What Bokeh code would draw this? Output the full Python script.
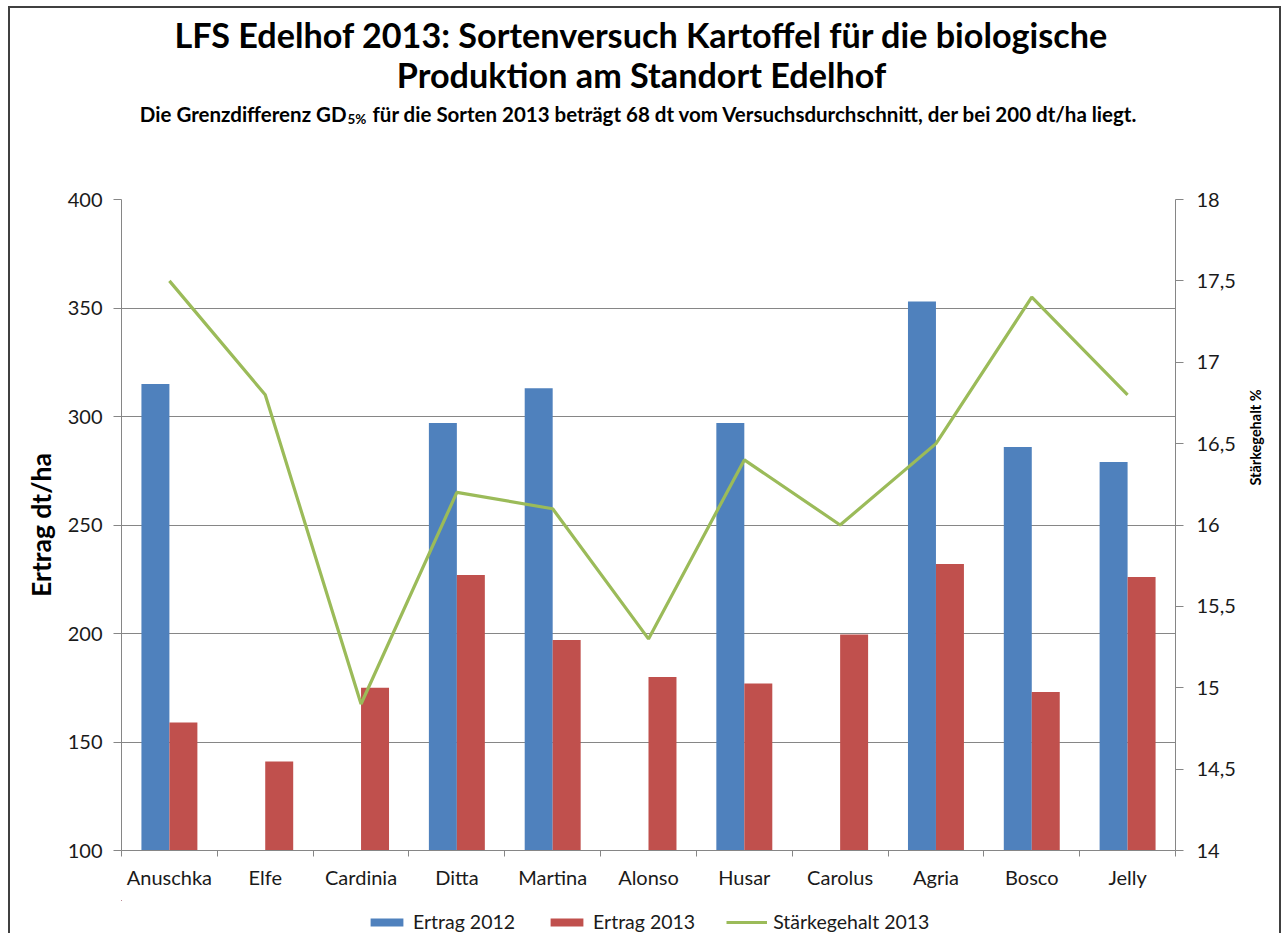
import math
import numpy as np
from bokeh.plotting import figure
from bokeh.layouts import column, row
from bokeh.models import (Range1d, LinearAxis, FixedTicker, Label, Legend, LegendItem,
                          ColumnDataSource)
from bokeh.embed import file_html
from bokeh.resources import INLINE

categories = ["Anuschka", "Elfe", "Cardinia", "Ditta", "Martina", "Alonso",
              "Husar", "Carolus", "Agria", "Bosco", "Jelly"]
ertrag_2012 = [315, None, None, 297, 313, None, 297, None, 353, 286, 279]
ertrag_2013 = [159, 141, 175, 227, 197, 180, 177, 199.5, 232, 173, 226]
staerke_2013 = [17.5, 16.8, 14.9, 16.2, 16.1, 15.3, 16.4, 16.0, 16.5, 17.4, 16.8]
left_ticks = [100, 150, 200, 250, 300, 350, 400]
right_ticks = [14, 14.5, 15, 15.5, 16, 16.5, 17, 17.5, 18]
series_names = ["Ertrag 2012", "Ertrag 2013", "Stärkegehalt 2013"]

title_1 = "LFS Edelhof 2013: Sortenversuch Kartoffel für die biologische"
title_2 = "Produktion am Standort Edelhof"
sub_a = "Die Grenzdifferenz GD"
sub_b = "5%"
sub_c = "für die Sorten 2013 beträgt 68 dt vom Versuchsdurchschnitt, der bei 200 dt/ha liegt."
y_title = "Ertrag dt/ha"
y2_title = "Stärkegehalt %"

BLUE, RED, GREEN, GREY = "#4F81BD", "#C0504D", "#9BBB59", "#868686"
FONT = "Lato"
RW = 36            # width of the strip holding the right axis title
CW = 1269 - RW     # width of the chart column
MBL, MBR = 111, 1243 - 1175


def blank(width, height, xr, yr, mbl=0, mbr=0):
    f = figure(width=width, height=height, x_range=Range1d(*xr), y_range=Range1d(*yr),
               output_backend="svg", toolbar_location=None,
               x_axis_location=None, y_axis_location=None,
               min_border=0, min_border_left=mbl, min_border_right=mbr,
               min_border_top=0, min_border_bottom=0)
    f.outline_line_color = None
    f.xgrid.visible = False
    f.ygrid.visible = False
    return f


# ---------- header (title block) ----------
head = blank(CW, 150, (121, 1175), (158, 8), MBL, MBR)


def lab(text, x, y, size, align="center"):
    head.add_layout(Label(x=x, y=y, text=text, text_font=FONT, text_font_size=size,
                          text_font_style="bold", text_align=align,
                          text_baseline="middle", text_color="black"))


lab(title_1, 641, 34, "34.2px")
lab(title_2, 641, 74, "34.2px")
lab(sub_a, 346, 113, "20.5px", align="right")
lab(sub_b, 347, 118, "13.5px", align="left")
lab(sub_c, 372, 113, "20.5px", align="left")

# ---------- main chart ----------
n = len(categories)
centers = [i + 0.5 for i in range(n)]
src = ColumnDataSource(dict(
    x=centers,
    x12=[c - 0.146 for c in centers],
    x13=[c + 0.146 for c in centers],
    e12=np.array(ertrag_2012, dtype=float),
    e13=np.array(ertrag_2013, dtype=float),
    st=staerke_2013,
))

p = figure(width=CW, height=742, x_range=Range1d(0, n), y_range=Range1d(100, 400),
           output_backend="svg", toolbar_location=None,
           min_border_left=MBL, min_border_right=MBR, min_border_top=41, min_border_bottom=50)
p.extra_y_ranges = {"right": Range1d(14, 18)}
p.outline_line_color = None

bar_kw = dict(bottom=100, width=0.292, source=src, line_color=None)
line_kw = dict(line_color=GREEN, line_width=3.2)
p.vbar(x="x12", top="e12", fill_color=BLUE, **bar_kw)
p.vbar(x="x13", top="e13", fill_color=RED, **bar_kw)
p.line(x="x", y="st", source=src, y_range_name="right", **line_kw)

xa = p.xaxis[0]
xa.ticker = FixedTicker(ticks=centers, minor_ticks=list(range(n + 1)))
xa.major_label_overrides = {c: name for c, name in zip(centers, categories)}
xa.major_tick_line_color = None
xa.major_tick_out = 0
xa.major_tick_in = 0
xa.minor_tick_line_color = GREY
xa.minor_tick_out = 6
xa.minor_tick_in = 0
xa.axis_line_color = GREY
xa.major_label_standoff = 8
xa.major_label_text_font = FONT
xa.major_label_text_font_size = "20px"
xa.major_label_text_color = "#1a1a1a"

ya = p.yaxis[0]
ya.ticker = FixedTicker(ticks=left_ticks, minor_ticks=[])
ya.axis_line_color = GREY
ya.major_tick_line_color = GREY
ya.major_tick_out = 8
ya.major_tick_in = 0
ya.major_label_standoff = 11
ya.major_label_text_font = FONT
ya.major_label_text_font_size = "20px"
ya.major_label_text_color = "#1a1a1a"
ya.axis_label = y_title
ya.axis_label_text_font = FONT
ya.axis_label_text_font_style = "bold"
ya.axis_label_text_font_size = "26.5px"
ya.axis_label_text_color = "black"
ya.axis_label_standoff = 8

ra = LinearAxis(y_range_name="right")
ra.ticker = FixedTicker(ticks=right_ticks, minor_ticks=[])
ra.major_label_overrides = {t: (str(t).replace(".", ",") if t % 1 else str(int(t))) for t in right_ticks}
ra.axis_line_color = GREY
ra.major_tick_line_color = GREY
ra.major_tick_out = 8
ra.major_tick_in = 0
ra.major_label_standoff = 13
ra.major_label_text_font = FONT
ra.major_label_text_font_size = "20px"
ra.major_label_text_color = "#1a1a1a"
p.add_layout(ra, "right")

p.xgrid.grid_line_color = None
p.ygrid.ticker = FixedTicker(ticks=left_ticks, minor_ticks=[])
p.ygrid.grid_line_color = GREY
p.ygrid.grid_line_width = 1

# ---------- footer (legend); same series, whose marks fall outside this strip's ranges ----------
foot = blank(CW, 33, (121, 1175), (933, 900), MBL, MBR)
g12 = foot.vbar(x="x12", top="e12", fill_color=BLUE, **bar_kw)
g13 = foot.vbar(x="x13", top="e13", fill_color=RED, **bar_kw)
gst = foot.line(x="x", y="st", source=src, **line_kw)
legend = Legend(items=[LegendItem(label=series_names[0], renderers=[g12]),
                       LegendItem(label=series_names[1], renderers=[g13]),
                       LegendItem(label=series_names[2], renderers=[gst])],
                location=(245, 0), orientation="horizontal",
                glyph_width=41, glyph_height=10, label_standoff=6, spacing=31,
                label_text_font=FONT, label_text_font_size="19.5px", label_text_color="#1a1a1a",
                label_height=22, padding=0, margin=0,
                border_line_color=None, background_fill_alpha=0)
foot.add_layout(legend)

# ---------- right strip (secondary axis title, reading upwards) ----------
side = blank(RW, 925, (1243, 1279), (933, 8))
side.add_layout(Label(x=1255, y=437, text=y2_title, angle=math.pi / 2,
                      text_font=FONT, text_font_size="14.5px", text_font_style="bold",
                      text_align="center", text_baseline="middle", text_color="black"))

layout = row(column(head, p, foot, spacing=0), side, spacing=0,
             styles={"margin-left": "8px", "margin-top": "6px",
                     "border": "2px solid #404040", "border-bottom": "none"})

open("out.html", "w").write(file_html(layout, INLINE))
